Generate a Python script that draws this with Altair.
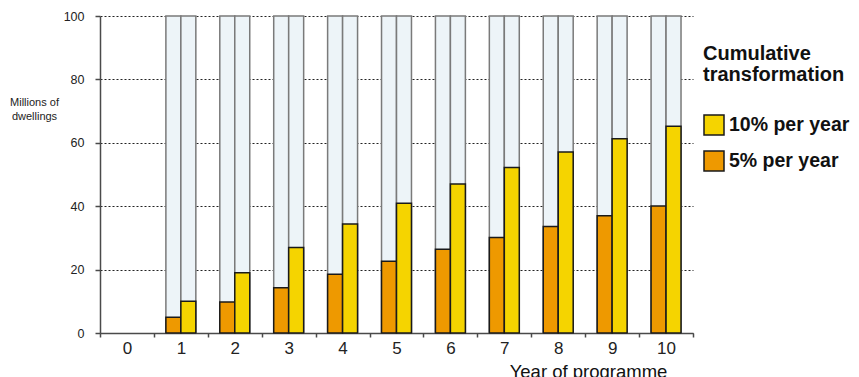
import altair as alt
import pandas as pd

# ---- data ----
years = list(range(1, 11))
axis_years = list(range(0, 11))
series_names = ["5% per year", "10% per year"]
legend_order = ["10% per year", "5% per year"]
pct5 = [5.0, 9.8, 14.3, 18.5, 22.6, 26.4, 30.1, 33.6, 37.0, 40.1]
pct10 = [10.0, 19.0, 27.0, 34.4, 40.9, 47.0, 52.2, 57.1, 61.3, 65.2]
stock_total = 100
y_tick_values = list(range(0, 101, 10))

rows = []
for i, yr in enumerate(years):
    rows.append({"year": yr, "series": series_names[0], "value": pct5[i], "stock": stock_total})
    rows.append({"year": yr, "series": series_names[1], "value": pct10[i], "stock": stock_total})
df = pd.DataFrame(rows)

AX = "#4a4a4a"

x_enc = alt.X(
    "year:O",
    scale=alt.Scale(domain=axis_years, paddingInner=0, paddingOuter=0),
    axis=alt.Axis(
        title="Year of programme",
        labelAngle=0,
        tickBand="extent",
        tickSize=4,
        tickWidth=1.5,
        tickColor=AX,
        domainColor=AX,
        domainWidth=1.5,
        labelFont="Liberation Sans",
        labelFontSize=17,
        labelColor="#222222",
        labelPadding=3,
        labelBaseline="top",
        titleFont="Liberation Sans",
        titleFontSize=18.5,
        titleFontWeight="normal",
        titleColor="#111111",
        titleAlign="center",
        titleX=488,
        titleY=44,
        titleBaseline="alphabetic",
        grid=False,
    ),
)
xo_enc = alt.XOffset(
    "series:N",
    scale=alt.Scale(domain=series_names, paddingInner=0, paddingOuter=0.8),
)

y_axis = alt.Axis(
    values=y_tick_values,
    labelExpr="datum.value % 20 === 0 ? datum.label : ''",
    tickSize=5,
    tickWidth=1.5,
    tickColor=AX,
    domainColor=AX,
    domainWidth=1.5,
    labelFont="Liberation Sans",
    labelFontSize=12.5,
    labelColor="#222222",
    labelPadding=11,
    grid=True,
    gridDash=[2, 2],
    gridColor="#222222",
    gridWidth=1,
    gridOpacity={"condition": {"test": "datum.value % 20 === 0", "value": 1}, "value": 0},
    title=["Millions of", "dwellings"],
    titleAngle=0,
    titleFont="Liberation Sans",
    titleFontSize=11,
    titleFontWeight="normal",
    titleColor="#222222",
    titleAlign="center",
    titleBaseline="top",
    titleLineHeight=14,
    titleX=-66,
    titleY=80,
)

bg = alt.Chart(df).mark_bar(fill="#EDF4F8", stroke="#7a7a7a", strokeWidth=1.5).encode(
    x=x_enc,
    xOffset=xo_enc,
    y=alt.Y("stock:Q", scale=alt.Scale(domain=[0, 100], nice=False), axis=y_axis),
)

fg = alt.Chart(df).mark_bar(stroke="#1a1a1a", strokeWidth=1.5).encode(
    x=x_enc,
    xOffset=xo_enc,
    y=alt.Y("value:Q"),
    color=alt.Color(
        "series:N",
        scale=alt.Scale(domain=legend_order, range=["#F5D400", "#EE9900"]),
        legend=alt.Legend(
            orient="none",
            legendX=603,
            legendY=28,
            padding=0,
            title=["Cumulative", "transformation"],
            titleFont="Liberation Sans",
            titleFontSize=20,
            titleFontWeight="bold",
            titleColor="#111111",
            titleLineHeight=21,
            titleLimit=300,
            titlePadding=29,
            symbolType="square",
            symbolSize=400,
            symbolStrokeColor="#1a1a1a",
            symbolStrokeWidth=1.5,
            symbolOpacity=1,
            labelFont="Liberation Sans",
            labelFontSize=19.5,
            labelFontWeight="bold",
            labelColor="#111111",
            labelOffset=4,
            labelLimit=300,
            rowPadding=10,
        ),
    ),
)

chart = (
    alt.layer(bg, fg)
    .properties(
        width=593,
        height=317,
        autosize=alt.AutoSizeParams(type="none"),
        padding={"left": 92, "top": 8, "right": 158, "bottom": 44},
    )
    .configure_view(stroke=None)
)

chart.save("out.html", embed_options={"renderer": "svg", "actions": False})
